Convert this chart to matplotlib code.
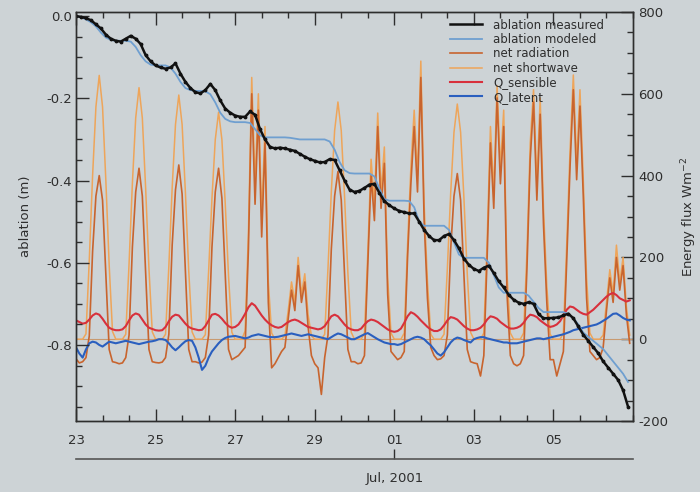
import numpy as np
import matplotlib
matplotlib.use('Agg')
from matplotlib import pyplot as plt
from matplotlib.ticker import MultipleLocator

# days counted from 23 Jun 2001 00:00
day_ticks = [0, 2, 4, 6, 8, 10, 12]
day_labels = ['23', '25', '27', '29', '01', '03', '05']
month_label = 'Jul, 2001'

# ablation (m), 3-hourly
abl_measured = [
    0.0, -0.002, -0.005, -0.01, -0.02, -0.03, -0.045, -0.055,
    -0.06, -0.062, -0.055, -0.048, -0.055, -0.068, -0.095, -0.11,
    -0.12, -0.125, -0.128, -0.125, -0.115, -0.14, -0.16, -0.175,
    -0.185, -0.188, -0.18, -0.165, -0.18, -0.205, -0.225, -0.235,
    -0.242, -0.245, -0.245, -0.232, -0.24, -0.275, -0.3, -0.318,
    -0.322, -0.32, -0.322, -0.325, -0.328, -0.335, -0.342, -0.348,
    -0.352, -0.356, -0.355, -0.348, -0.35, -0.375, -0.4, -0.422,
    -0.428, -0.425, -0.418, -0.41, -0.408, -0.43, -0.45, -0.46,
    -0.468, -0.474, -0.477, -0.48, -0.48, -0.5, -0.52, -0.535,
    -0.545, -0.545, -0.535, -0.53, -0.545, -0.565, -0.59, -0.605,
    -0.615, -0.62, -0.612, -0.607, -0.625, -0.645, -0.66, -0.678,
    -0.69, -0.697, -0.7, -0.696, -0.7, -0.725, -0.735, -0.735,
    -0.734, -0.733, -0.728, -0.724, -0.735, -0.755, -0.775, -0.79,
    -0.805, -0.82, -0.84, -0.855, -0.87, -0.885, -0.91, -0.95,
]
abl_modeled = [
    0.0, -0.003, -0.008, -0.015, -0.025, -0.04, -0.052, -0.058,
    -0.06, -0.06, -0.06, -0.062, -0.075, -0.095, -0.11, -0.118,
    -0.12, -0.12, -0.12, -0.125, -0.14, -0.16, -0.175, -0.18,
    -0.182, -0.182, -0.183, -0.19, -0.21, -0.235, -0.25, -0.256,
    -0.258, -0.258, -0.258, -0.26, -0.275, -0.29, -0.295, -0.295,
    -0.295, -0.295, -0.295, -0.296, -0.298, -0.3, -0.3, -0.3,
    -0.3, -0.3, -0.3, -0.305, -0.325, -0.355, -0.375, -0.382,
    -0.383, -0.383, -0.383, -0.383, -0.39, -0.42, -0.445, -0.449,
    -0.449, -0.449, -0.449, -0.45, -0.465, -0.5, -0.51, -0.51,
    -0.51, -0.51, -0.51, -0.52, -0.55, -0.58, -0.588, -0.588,
    -0.588, -0.588, -0.588, -0.6, -0.63, -0.66, -0.673, -0.673,
    -0.673, -0.673, -0.673, -0.68, -0.695, -0.71, -0.72, -0.72,
    -0.72, -0.72, -0.72, -0.725, -0.735, -0.75, -0.77, -0.78,
    -0.79, -0.8, -0.81, -0.825, -0.84, -0.855, -0.87, -0.89,
]

# energy fluxes (W m-2), 2-hourly, one row per day
net_shortwave = [
    0, 0, 0, 13, 194, 400, 568, 645, 568, 387, 181, 19,
    0, 0, 0, 12, 185, 381, 541, 615, 541, 369, 172, 18,
    0, 0, 0, 12, 179, 370, 525, 597, 525, 358, 167, 18,
    0, 0, 0, 11, 167, 344, 488, 555, 488, 333, 155, 17,
    0, 0, 0, 20, 260, 640, 380, 600, 300, 520, 140, 15,
    0, 0, 0, 8, 70, 140, 90, 200, 110, 160, 60, 8,
    0, 0, 0, 12, 174, 360, 510, 580, 510, 348, 162, 17,
    0, 0, 0, 15, 210, 440, 330, 553, 360, 470, 150, 15,
    0, 0, 0, 15, 230, 420, 560, 400, 680, 330, 140, 12,
    0, 0, 0, 12, 172, 356, 506, 575, 506, 345, 161, 17,
    0, 0, 0, 15, 240, 520, 360, 620, 420, 560, 160, 15,
    0, 0, 0, 15, 210, 480, 610, 380, 590, 320, 130, 12,
    0, 0, 0, 15, 230, 460, 646, 430, 610, 390, 150, 15,
    0, 0, 0, 10, 90, 170, 110, 230, 140, 200, 80, 10,
]
net_radiation = [
    -48, -58, -55, -45, 8, 215, 350, 400, 340, 160, -25, -55,
    -57, -60, -58, -45, 10, 225, 360, 418, 350, 165, -25, -55,
    -57, -58, -56, -45, 12, 230, 365, 426, 355, 165, -25, -55,
    -55, -58, -56, -45, 10, 225, 360, 418, 345, 160, -25, -50,
    -45, -40, -30, -20, 220, 600, 330, 560, 250, 480, 90, -70,
    -60, -45, -30, -20, 50, 120, 70, 180, 90, 140, 30, -40,
    -60, -70, -135, -45, 10, 220, 350, 410, 340, 160, -25, -55,
    -55, -60, -58, -40, 180, 400, 290, 520, 320, 430, 110, -30,
    -40, -50, -45, -30, 200, 380, 520, 360, 640, 290, 100, -20,
    -40, -50, -48, -40, 10, 220, 350, 405, 340, 160, -25, -55,
    -58, -60, -90, -40, 200, 480, 320, 590, 380, 520, 110, -40,
    -60, -65, -60, -40, 170, 440, 580, 340, 550, 280, 90, -50,
    -50, -90, -60, -30, 190, 420, 610, 390, 570, 350, 100, -30,
    -40, -50, -45, -20, 70, 150, 90, 200, 120, 180, 60, -10,
]
q_sensible = [
    46, 42, 38, 40, 48, 58, 63, 60, 50, 38, 28, 24,
    22, 22, 24, 32, 46, 58, 63, 60, 48, 36, 28, 25,
    22, 21, 22, 30, 44, 55, 60, 58, 48, 38, 30, 26,
    24, 22, 23, 32, 46, 60, 62, 58, 50, 40, 32, 28,
    30, 36, 48, 62, 78, 88, 82, 70, 58, 48, 40, 34,
    30, 28, 30, 36, 42, 46, 48, 45, 40, 35, 30, 28,
    26, 24, 26, 32, 44, 56, 60, 56, 46, 36, 28, 24,
    22, 22, 26, 36, 44, 48, 46, 42, 36, 30, 24, 20,
    18, 20, 26, 40, 56, 66, 62, 55, 46, 38, 30, 24,
    20, 20, 24, 34, 46, 54, 52, 48, 40, 32, 26, 22,
    22, 24, 28, 36, 48, 56, 54, 50, 42, 36, 30, 26,
    26, 28, 32, 40, 52, 60, 58, 54, 46, 40, 34, 30,
    32, 36, 44, 58, 72, 80, 78, 72, 66, 62, 60, 66,
    72, 80, 88, 96, 104, 110, 113, 108, 100, 96, 92, 95,
]
q_latent = [
    -20, -35, -45, -25, -10, -6, -8, -14, -18, -12, -6, -8,
    -10, -8, -6, -4, -6, -8, -10, -12, -10, -8, -6, -5,
    -3, 0, 0, -2, -10, -20, -27, -20, -12, -5, -2, -4,
    -20, -45, -75, -65, -45, -30, -20, -10, -2, 3, 6, 7,
    8, 6, 4, 2, 4, 8, 10, 12, 10, 8, 6, 5,
    5, 6, 8, 10, 12, 14, 12, 10, 8, 10, 12, 10,
    8, 6, 4, 2, 0, 5, 10, 14, 12, 8, 4, 0,
    0, 4, 8, 12, 15, 10, 5, 0, -4, -8, -10, -12,
    -12, -14, -12, -8, -4, 0, 4, 6, 4, 0, -8, -15,
    -25, -35, -40, -32, -20, -8, 0, 4, 2, -2, -5, -8,
    0, 3, 5, 5, 2, 0, -2, -4, -6, -8, -8, -10,
    -10, -10, -8, -6, -4, -2, 0, 2, 2, 0, 2, 4,
    6, 8, 10, 12, 15, 18, 22, 24, 26, 28, 30, 32,
    34, 36, 40, 45, 50, 56, 62, 63, 58, 52, 48, 46,
]

t_abl = np.arange(len(abl_measured)) * 3 / 24.0
t_flux = np.arange(len(net_shortwave)) * 2 / 24.0

bg = '#cdd3d6'
ink = '#2e2e2e'
plt.rcParams['font.family'] = 'DejaVu Sans'
plt.rcParams['font.size'] = 9.5
plt.rcParams['axes.unicode_minus'] = False

fig = plt.figure(figsize=(7, 4.92), dpi=100, facecolor=bg)
ax = fig.add_axes([0.1086, 0.1443, 0.7957, 0.8313])
ax2 = ax.twinx()
ax.set_zorder(ax2.get_zorder() + 1)
ax.patch.set_visible(False)
ax2.set_facecolor(bg)

# fluxes on the right axis
ax2.axhline(0, color='#c89a70', lw=0.8)
h_sw, = ax2.plot(t_flux, net_shortwave, color='#eea55a', lw=1.1)
h_rn, = ax2.plot(t_flux, net_radiation, color='#c8642e', lw=1.2)
h_qs, = ax2.plot(t_flux, q_sensible, color='#d8303c', lw=1.5)
h_ql, = ax2.plot(t_flux, q_latent, color='#2a5fbf', lw=1.5)

# ablation on the left axis
h_mod, = ax.plot(t_abl, abl_modeled, color='#6f9fd0', lw=1.3)
h_meas, = ax.plot(t_abl, abl_measured, color='#111111', lw=1.8)
ax.plot(t_abl, abl_measured, ls='none', color='#111111', marker='.', ms=3.5)

ax.set_xlim(0, 14)
ax.set_ylim(-0.985, 0.01)
ax2.set_ylim(-200, 800)

ax.set_xticks(day_ticks)
ax.set_xticklabels(day_labels)
ax.xaxis.set_minor_locator(MultipleLocator(2 / 3))
ax.yaxis.set_major_locator(MultipleLocator(0.2))
ax.yaxis.set_minor_locator(MultipleLocator(0.05))
ax2.yaxis.set_major_locator(MultipleLocator(200))
ax2.yaxis.set_minor_locator(MultipleLocator(50))

ax.tick_params(axis='both', which='both', direction='in', colors=ink, labelcolor=ink)
ax.tick_params(axis='x', which='both', top=True, labeltop=False, pad=9)
ax.tick_params(which='major', length=9, width=1)
ax.tick_params(which='minor', length=4.5, width=1)
ax.tick_params(axis='y', pad=3)
ax2.tick_params(axis='y', which='both', direction='in', colors=ink, labelcolor=ink, pad=4)
ax2.tick_params(which='major', length=9, width=1)
ax2.tick_params(which='minor', length=4.5, width=1)

for a in (ax, ax2):
    for s in a.spines.values():
        s.set_color(ink)
        s.set_linewidth(1.0)

ax.set_ylabel('ablation (m)', color=ink, labelpad=10)
ax2.set_ylabel('Energy flux Wm$^{-2}$', color=ink, labelpad=8)

# month axis underneath
sec = ax.secondary_xaxis(-0.093)
sec.set_xticks([8])
sec.set_xticklabels([month_label])
sec.tick_params(direction='in', length=7, width=1, colors=ink, labelcolor=ink, pad=9)
sec.spines['bottom'].set_color('#555555')
sec.spines['bottom'].set_linewidth(1.2)

ax.legend([h_meas, h_mod, h_rn, h_sw, h_qs, h_ql],
          ['ablation measured', 'ablation modeled', 'net radiation',
           'net shortwave', 'Q_sensible', 'Q_latent'],
          loc='upper left', bbox_to_anchor=(0.652, 1.01), frameon=False,
          fontsize=8.5, handlelength=2.7, labelspacing=0.12, handletextpad=1.0,
          labelcolor=ink)

fig.savefig('out.png', dpi=100, facecolor=bg)
